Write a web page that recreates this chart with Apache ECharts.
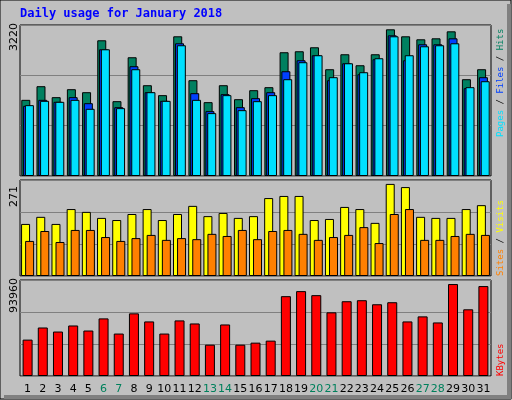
<!DOCTYPE html>
<html><head><meta charset="utf-8">
<script src="https://cdn.jsdelivr.net/npm/echarts@6/dist/echarts.min.js"></script>
<style>html,body{margin:0;padding:0;background:#c0c0c0}#c{width:512px;height:400px}</style>
</head><body><div id="c"></div>
<script>
const days = ['1','2','3','4','5','6','7','8','9','10','11','12','13','14','15','16','17','18','19','20','21','22','23','24','25','26','27','28','29','30','31'];
const weekends = ['6','7','13','14','20','21','27','28'];
const hits = [1624,1915,1681,1851,1787,2894,1596,2532,1936,1724,2979,2043,1575,1936,1638,1830,1894,2639,2660,2745,2277,2596,2362,2596,3128,2979,2915,2936,3085,2064,2277];
const files = [1497,1624,1582,1681,1553,2702,1468,2341,1787,1603,2830,1766,1383,1745,1468,1660,1787,2234,2468,2575,2043,2404,2170,2490,3000,2468,2809,2809,2936,1873,2107];
const pages = [1511,1603,1582,1624,1433,2702,1447,2277,1787,1603,2788,1624,1341,1724,1404,1596,1724,2064,2426,2575,2107,2404,2213,2511,2979,2575,2766,2788,2830,1894,2021];
const visits = [147,167,147,189,181,164,158,175,189,158,175,198,169,178,164,169,220,226,226,158,161,195,189,150,260,251,167,164,164,189,200];
const sites = [99,127,96,130,130,110,99,107,116,102,107,104,119,113,130,104,127,130,119,102,110,116,138,93,175,189,102,102,113,119,116];
const kbytes = [35607,47475,43520,49455,44510,56380,41540,61320,53410,41540,54400,51430,30660,50440,30660,32640,34620,78140,83080,79130,62310,73190,74180,70220,72200,53410,58350,52420,90000,65280,88020];
const maxTop = 3220, maxMid = 271, maxBot = 93960;

const C = {hits:'#008060', files:'#0040ff', pages:'#00e0ff', visits:'#ffff00', sites:'#ff8000', kb:'#ff0000'};
const grids = [
  {left:20, right:21, top:25, height:151},
  {left:20, right:21, top:180, height:96},
  {left:20, right:21, top:280, height:96}
];
const maxes = [maxTop, maxMid, maxBot];
function xAx(i){
  return {type:'category', data:days, gridIndex:i, boundaryGap:true,
    axisLine:{show:false}, axisTick:{show:false},
    axisLabel:{show:i===2, margin:8, fontFamily:'DejaVu Sans', fontSize:11, interval:0,
      color:(v)=>weekends.includes(v)?'#00805c':'#000'}};
}
function yAx(i){
  return {type:'value', gridIndex:i, min:0, max:maxes[i], interval:maxes[i]/3,
    axisLabel:{show:false}, axisLine:{show:false}, axisTick:{show:false},
    splitLine:{show:true, lineStyle:{color:'#808080', width:1}}};
}
function bar(name,data,color,xi,gap,bw){
  return {type:'bar', name, data, xAxisIndex:xi, yAxisIndex:xi, barWidth:bw, barGap:gap,
    itemStyle:{color, borderColor:'#000', borderWidth:1}, silent:true, animation:false};
}
const F = '9px "DejaVu Sans Mono"';
const chart = echarts.init(document.getElementById('c'));
chart.setOption({
  backgroundColor:'#c0c0c0',
  animation:false,
  grid: grids.map(g=>Object.assign({show:true, borderColor:'#000', borderWidth:1, backgroundColor:'#c0c0c0'}, g)),
  xAxis:[xAx(0),xAx(1),xAx(2)],
  yAxis:[yAx(0),yAx(1),yAx(2)],
  series:[
    bar('Hits',hits,C.hits,0,'-80%',9),
    bar('Files',files,C.files,0,'-80%',9),
    bar('Pages',pages,C.pages,0,'-80%',9),
    bar('Visits',visits,C.visits,1,'-55%',9),
    bar('Sites',sites,C.sites,1,'-55%',9),
    bar('KBytes',kbytes,C.kb,2,'0%',10)
  ],
  graphic:[
    {type:'rect', shape:{x:0,y:0,width:511,height:399}, style:{fill:'none', stroke:'#000', lineWidth:1}, z:0},
    {type:'rect', shape:{x:507,y:4,width:4,height:395}, style:{fill:'#808080'}, z:0},
    {type:'rect', shape:{x:4,y:395,width:507,height:4}, style:{fill:'#808080'}, z:0},
    {type:'text', x:20, y:8, style:{text:'Daily usage for January 2018', fill:'#0000ff', font:'bold 12px "DejaVu Sans Mono"'}},
    {type:'text', x:9, y:51, rotation:Math.PI/2, style:{text:String(maxTop), fill:'#000', font:'11px "DejaVu Sans"'}},
    {type:'text', x:9, y:207, rotation:Math.PI/2, style:{text:String(maxMid), fill:'#000', font:'11px "DejaVu Sans"'}},
    {type:'text', x:9, y:313, rotation:Math.PI/2, style:{text:String(maxBot), fill:'#000', font:'11px "DejaVu Sans"'}},
    {type:'text', x:496, y:137, rotation:Math.PI/2, style:{text:'{p|Pages}{s| / }{f|Files}{s| / }{h|Hits}', font:F,
      rich:{p:{fill:C.pages,font:F}, f:{fill:C.files,font:F}, h:{fill:C.hits,font:F}, s:{fill:'#000',font:F}}}},
    {type:'text', x:496, y:276, rotation:Math.PI/2, style:{text:'{a|Sites}{s| / }{b|Visits}', font:F,
      rich:{a:{fill:C.sites,font:F}, b:{fill:C.visits,font:F}, s:{fill:'#000',font:F}}}},
    {type:'text', x:496, y:376, rotation:Math.PI/2, style:{text:'KBytes', fill:C.kb, font:F}}
  ]
});
</script></body></html>
